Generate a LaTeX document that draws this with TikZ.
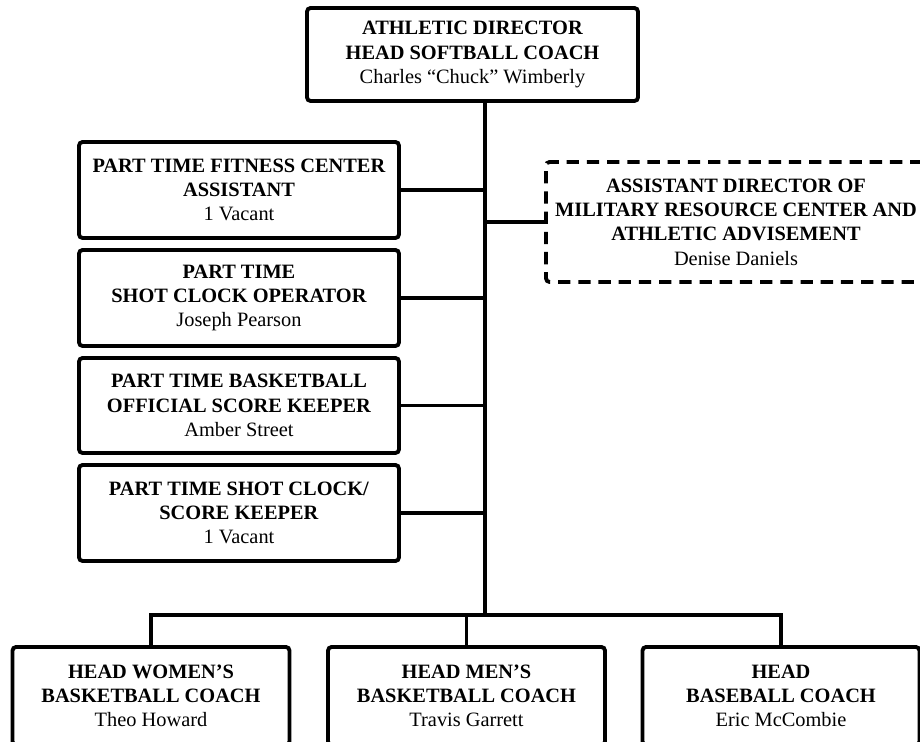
\documentclass[tikz,border=0pt]{standalone}
\usepackage{fontspec}
\setmainfont{Liberation Serif}
\begin{document}
\begin{tikzpicture}
  [x=0.02cm,y=-0.02cm,
   box/.style={draw,line width=2.2pt,rounded corners=2pt,align=center,
     font=\fontsize{11.6}{13.8}\selectfont},
   dashbox/.style={box,dash pattern=on 7pt off 4.5pt},
   link/.style={line width=2.2pt}]
  \useasboundingbox (0,0) rectangle (920,742);
  \clip (0,0) rectangle (920,742);

  \node [box,minimum width=6.62cm,minimum height=1.86cm]
    (ad) at (472.5,54.5)
    {\textbf{ATHLETIC DIRECTOR}\\\textbf{HEAD SOFTBALL COACH}\\Charles “Chuck” Wimberly};

  \node [box,minimum width=6.4cm,minimum height=1.92cm]
    (fitness) at (239,190)
    {\textbf{PART TIME FITNESS CENTER}\\\textbf{ASSISTANT}\\1 Vacant};
  \node [box,minimum width=6.4cm,minimum height=1.92cm]
    (shotclock) at (239,298)
    {\textbf{PART TIME}\\\textbf{SHOT CLOCK OPERATOR}\\Joseph Pearson};
  \node [box,minimum width=6.4cm,minimum height=1.9cm]
    (scorekeeper) at (239,405.5)
    {\textbf{PART TIME BASKETBALL}\\\textbf{OFFICIAL SCORE KEEPER}\\Amber Street};
  \node [box,minimum width=6.4cm,minimum height=1.92cm]
    (clockkeeper) at (239,513)
    {\textbf{PART TIME SHOT CLOCK/}\\\textbf{SCORE KEEPER}\\1 Vacant};

  \node [dashbox,minimum width=7.6cm,minimum height=2.4cm]
    (military) at (736,222)
    {\textbf{ASSISTANT DIRECTOR OF}\\\textbf{MILITARY RESOURCE CENTER AND}\\\textbf{ATHLETIC ADVISEMENT}\\Denise Daniels};

  \node [box,minimum width=5.54cm,minimum height=1.96cm]
    (women) at (151,696)
    {\textbf{HEAD WOMEN’S}\\\textbf{BASKETBALL COACH}\\Theo Howard};
  \node [box,minimum width=5.54cm,minimum height=1.96cm]
    (men) at (466.5,696)
    {\textbf{HEAD MEN’S}\\\textbf{BASKETBALL COACH}\\Travis Garrett};
  \node [box,minimum width=5.54cm,minimum height=1.96cm]
    (baseball) at (781,696)
    {\textbf{HEAD}\\\textbf{BASEBALL COACH}\\Eric McCombie};

  \coordinate (trunk) at (485,615);

  \draw [link]
    (ad.south -| trunk)
    -- (trunk)
  ;
  \foreach \n in {fitness,shotclock,scorekeeper,clockkeeper}
    \draw [link] (\n.east) -- (\n.east -| trunk);
  \draw [link]
    (military.west)
    -- (military.west -| trunk)
  ;
  \draw [link]
    (women.north)
    |- (trunk)
    -| (baseball.north)
  ;
  \draw [link]
    (men.north)
    -- (men.north |- trunk)
  ;
\end{tikzpicture}
\end{document}
